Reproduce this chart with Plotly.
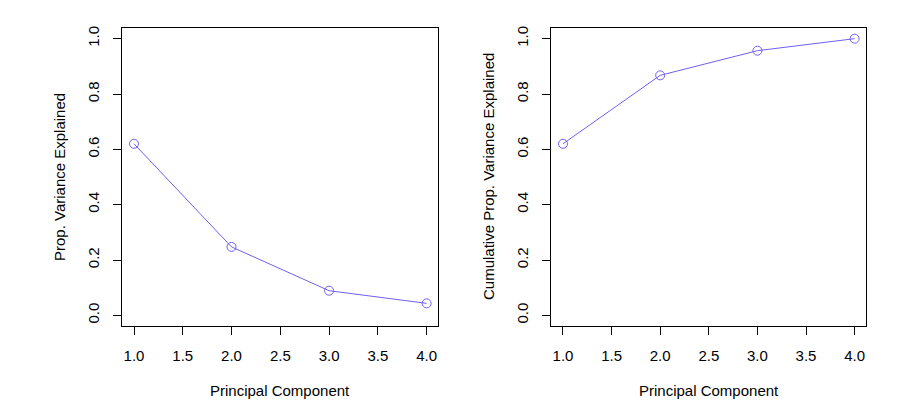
import plotly.graph_objects as go

components = [1, 2, 3, 4]
pve = [0.6201, 0.2474, 0.0891, 0.0434]
cum_pve = [0.6201, 0.8675, 0.9566, 1.0]
x_ticks = [1.0, 1.5, 2.0, 2.5, 3.0, 3.5, 4.0]
y_ticks = [0.0, 0.2, 0.4, 0.6, 0.8, 1.0]

color = "#6f60f0"
font = dict(family="Liberation Sans, Arial, Helvetica, sans-serif", size=15, color="black")

# page is rendered with an 8px body margin
OFF = 8
W, H = 913 - OFF, 412 - OFF
def px(x):
    return (x - OFF) / W
def py(y):
    return 1 - (y - OFF) / H

fig = go.Figure()
for i, vals in enumerate([pve, cum_pve]):
    fig.add_trace(go.Scatter(x=components, y=vals, mode="lines+markers",
                             line=dict(color=color, width=1),
                             marker=dict(symbol="circle-open", size=9, color=color, line=dict(width=1)),
                             xaxis="x" if i == 0 else "x2", yaxis="y" if i == 0 else "y2",
                             showlegend=False))

xd1 = [px(122.3), px(438.3)]
xd2 = [px(551.3), px(866.3)]
yd = [py(326), py(25.7)]

def xax(domain, anchor):
    return dict(domain=domain, anchor=anchor, range=[0.88, 4.12], tickvals=x_ticks,
                ticktext=[f"{v:.1f}" for v in x_ticks], showgrid=False, zeroline=False,
                showline=True, mirror=True, linecolor="black", linewidth=1,
                ticks="outside", ticklen=8, tickcolor="black", tickwidth=1,
                tickfont=font, ticklabelstandoff=8)

def yax(domain, anchor):
    return dict(domain=domain, anchor=anchor, range=[-0.04, 1.04], tickvals=y_ticks,
                ticktext=[f"{v:.1f}" for v in y_ticks], showgrid=False, zeroline=False,
                showline=True, mirror=True, linecolor="black", linewidth=1,
                ticks="outside", ticklen=8, tickcolor="black", tickwidth=1,
                tickfont=font, tickangle=-90, ticklabelstandoff=8)

fig.update_layout(
    width=W, height=H,
    margin=dict(l=0, r=0, t=0, b=0),
    paper_bgcolor="white", plot_bgcolor="white",
    xaxis=xax(xd1, "y"), yaxis=yax(yd, "x"),
    xaxis2=xax(xd2, "y2"), yaxis2=yax(yd, "x2"),
    font=font,
)

annotations = [
    dict(text="Principal Component", x=(xd1[0] + xd1[1]) / 2, y=py(390)),
    dict(text="Principal Component", x=(xd2[0] + xd2[1]) / 2, y=py(390)),
    dict(text="Prop. Variance Explained", x=px(59), y=(yd[0] + yd[1]) / 2, textangle=-90),
    dict(text="Cumulative Prop. Variance Explained", x=px(488), y=(yd[0] + yd[1]) / 2, textangle=-90),
]
for a in annotations:
    fig.add_annotation(xref="paper", yref="paper", showarrow=False, font=font,
                       xanchor="center", yanchor="middle", **a)

fig.write_html("out.html")
